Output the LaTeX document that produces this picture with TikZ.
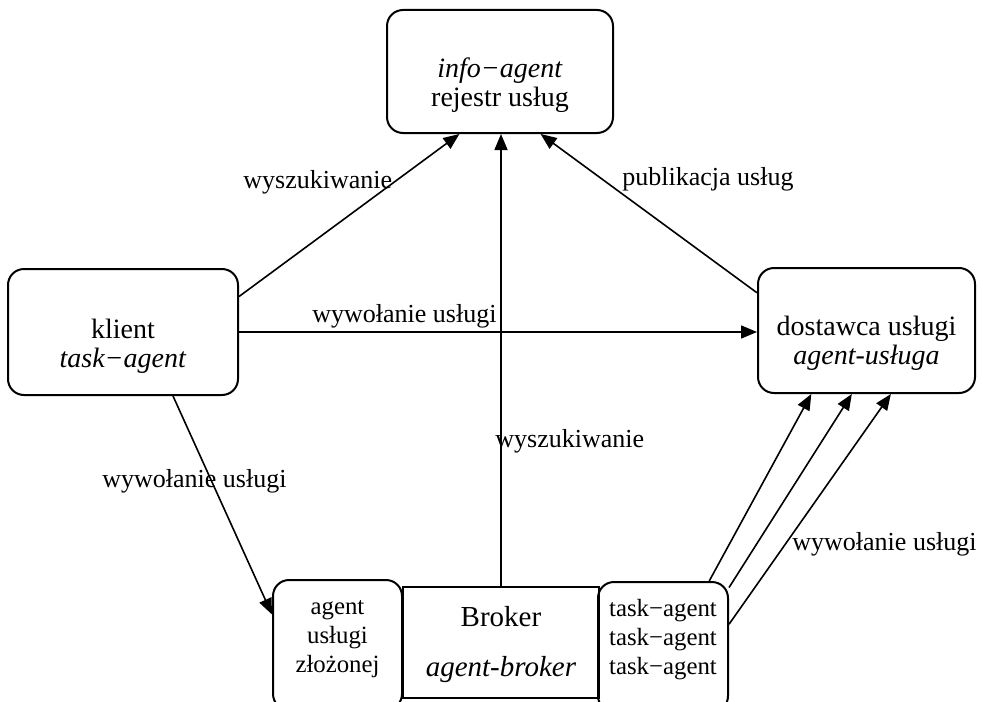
\documentclass[tikz,border=0pt]{standalone}
\usepackage{fontspec}
\setmainfont{Liberation Serif}
\usetikzlibrary{arrows.meta,calc}
\tikzset{
  rbox/.style={draw,line width=1pt,rounded corners=8pt,inner sep=0pt},
  mtxt/.style={align=center,inner sep=0pt,font=\fontsize{14}{14.5}\selectfont},
  stxt/.style={align=center,inner sep=0pt,font=\fontsize{12.4}{14.5}\selectfont},
  lbl/.style={anchor=base west,inner sep=0pt,font=\fontsize{13}{15}\selectfont},
  arr/.style={line width=0.8pt,-{Triangle[length=8pt,width=6.5pt]}}
}

\begin{document}
\begin{tikzpicture}[x=0.5pt,y=-0.5pt]
	\clip (0,0) rectangle (983,701);
	% boxes
	\node[rbox,minimum width=113pt,minimum height=61.5pt] (info) at (500,71.5) {};
	\node[mtxt] (infotxt) at (500,85) {\textit{info−agent}\\rejestr usług};
	\node[rbox,minimum width=115pt,minimum height=63pt] (klient) at (123,332) {};
	\node[mtxt] (klienttxt) at (123,346) {klient\\\textit{task−agent}};
	\node[rbox,minimum width=108.5pt,minimum height=62.5pt] (dostawca) at (866.5,330.5) {};
	\node[mtxt] (dostawcatxt) at (866.5,343.5) {dostawca usługi\\\textit{agent-usługa}};
	\node[rbox,minimum width=64.5pt,minimum height=65pt] (zlozony) at (337.5,645) {};
	\node[stxt] (zlozonytxt) at (337.5,639) {agent\\usługi\\złożonej};
	\node[draw,line width=1pt,minimum width=98pt,minimum height=55.5pt] (broker) at (501,642.5) {};
	\node[align=center,inner sep=0pt,font=\fontsize{14.5}{25}\selectfont] (brokertxt) at (501,645) {Broker\\\textit{agent-broker}};
	\node[rbox,minimum width=65pt,minimum height=65pt] (task) at (663,647) {};
	\node[stxt] (tasktxt) at (663,640) {task−agent\\task−agent\\task−agent};
	% connectors
	\draw[arr] (klient.17) -- (info.237);
	\draw[arr] (broker.north) -- (broker.north |- info.south);
	\draw[arr] (dostawca.161) -- (info.303);
	\draw[arr] (klient.east) -- (dostawca.west |- klient.east);
	\draw[arr] (klient.308) -- (zlozony.155);
	\draw[arr] (task.55) -- (dostawca.229);
	\draw[arr] (task.42) -- (dostawca.257);
	\draw[arr] (task.19) -- (dostawca.291);
	% labels
	\node[lbl] (l1) at (243,188) {wyszukiwanie};
	\node[lbl] (l2) at (622,185) {publikacja usług};
	\node[lbl] (l3) at (312,322) {wywołanie usługi};
	\node[lbl] (l4) at (495,447) {wyszukiwanie};
	\node[lbl] (l5) at (102,487) {wywołanie usługi};
	\node[lbl] (l6) at (792,550) {wywołanie usługi};
\end{tikzpicture}
\end{document}
